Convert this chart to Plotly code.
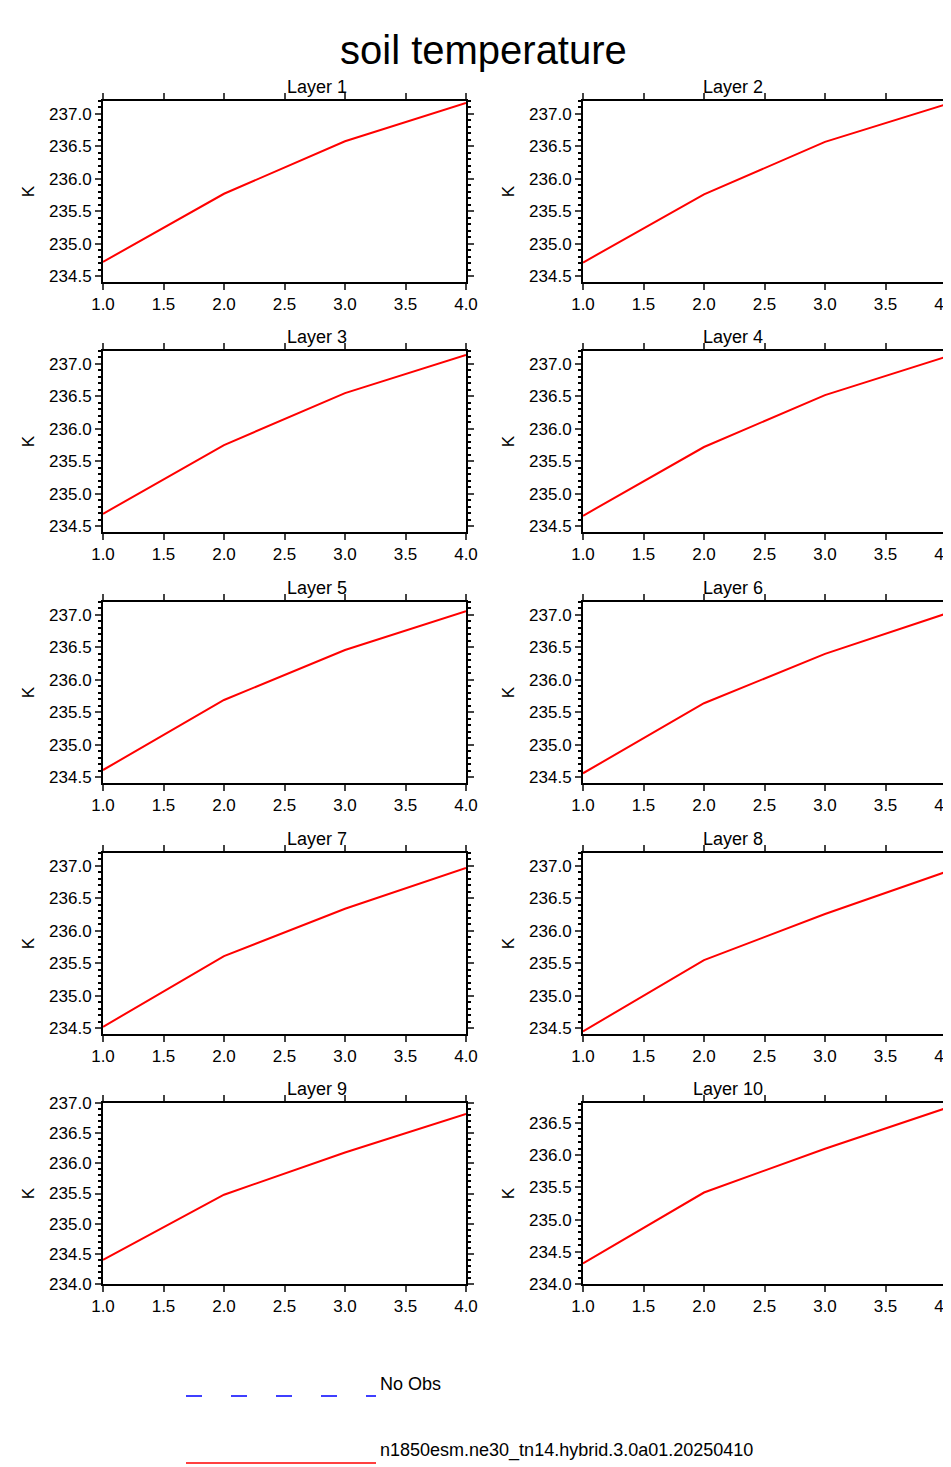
import plotly.graph_objects as go

W, H = 951, 1467

months = [1, 2, 3, 4]
layer_names = ["Layer %d" % i for i in range(1, 11)]
# soil temperature (K) per layer
layer_values = [
    [234.72, 235.77, 236.58, 237.17],
    [234.71, 235.76, 236.57, 237.15],
    [234.69, 235.75, 236.55, 237.14],
    [234.66, 235.72, 236.52, 237.11],
    [234.61, 235.69, 236.46, 237.06],
    [234.56, 235.64, 236.40, 237.02],
    [234.52, 235.61, 236.34, 236.97],
    [234.45, 235.55, 236.26, 236.91],
    [234.40, 235.48, 236.18, 236.82],
    [234.32, 235.42, 236.10, 236.73],
]
y_ranges = [[234.41, 237.2]] * 8 + [[234.0, 237.0], [234.0, 236.81]]
x_ticks = [1.0, 1.5, 2.0, 2.5, 3.0, 3.5, 4.0]
legend_labels = ["No Obs", "n1850esm.ne30_tn14.hybrid.3.0a01.20250410"]

font = "Liberation Sans, Arial, sans-serif"
fig = go.Figure()

col_x = [(95, 458), (575, 938)]
row_top = [93, 343, 594, 845, 1095]
ph = 181

for i, (name, vals) in enumerate(zip(layer_names, layer_values)):
    r, c = divmod(i, 2)
    n = i + 1
    xa = "xaxis" if n == 1 else "xaxis%d" % n
    ya = "yaxis" if n == 1 else "yaxis%d" % n
    x0, x1 = col_x[c]
    top = row_top[r]
    fig.add_trace(go.Scatter(x=months, y=vals, mode="lines",
                             line=dict(color="red", width=2),
                             xaxis="x%d" % n if n > 1 else "x",
                             yaxis="y%d" % n if n > 1 else "y",
                             showlegend=False))
    fig.update_layout(**{
        xa: dict(domain=[x0 / W, x1 / W], range=[1, 4], tickvals=x_ticks,
                 ticktext=["%.1f" % t for t in x_ticks],
                 anchor="y%d" % n if n > 1 else "y", automargin=False,
                 ticks="outside", ticklen=6, tickwidth=1.5, mirror="allticks",
                 showline=True, linewidth=2, linecolor="black",
                 showgrid=False, zeroline=False,
                 tickfont=dict(size=17, family=font, color="black")),
        ya: dict(domain=[1 - (top + ph) / H, 1 - top / H], range=y_ranges[i],
                 dtick=0.5, tickformat=".1f",
                 anchor="x%d" % n if n > 1 else "x", automargin=False,
                 ticks="outside", ticklen=6, tickwidth=1.5, mirror="allticks",
                 minor=dict(ticks="outside", dtick=0.1, ticklen=3, tickcolor="black"),
                 showline=True, linewidth=2, linecolor="black",
                 showgrid=False, zeroline=False,
                 title=dict(text="K", font=dict(size=17, family=font, color="black"),
                            standoff=10),
                 tickfont=dict(size=17, family=font, color="black")),
    })
    fig.add_annotation(text=name, x=(x0 + x1) / 2 / W, y=1 - (top - 2) / H,
                       xref="paper", yref="paper", showarrow=False,
                       yanchor="bottom", font=dict(size=18, family=font, color="black"))

# legend drawn at bottom
leg = [(1388, dict(color="blue", width=1.5, dash="16px,29px")),
       (1455, dict(color="red", width=1.5))]
for (yy, ln), label in zip(leg, legend_labels):
    fig.add_shape(type="line", xref="paper", yref="paper",
                  x0=178 / W, x1=368 / W, y0=1 - yy / H, y1=1 - yy / H, line=ln)
    fig.add_annotation(text=label, x=370 / W, y=1 - yy / H, xref="paper", yref="paper",
                       showarrow=False, xanchor="left",
                       font=dict(size=18, family=font, color="black"))

fig.add_annotation(text="soil temperature", x=0.5, y=1 - 18 / H, xref="paper", yref="paper",
                   showarrow=False, font=dict(size=40, family=font, color="black"))

fig.update_layout(width=W, height=H, margin=dict(l=0, r=0, t=0, b=0, autoexpand=False),
                  plot_bgcolor="white", paper_bgcolor="white", showlegend=False)

fig.write_html("out.html")
